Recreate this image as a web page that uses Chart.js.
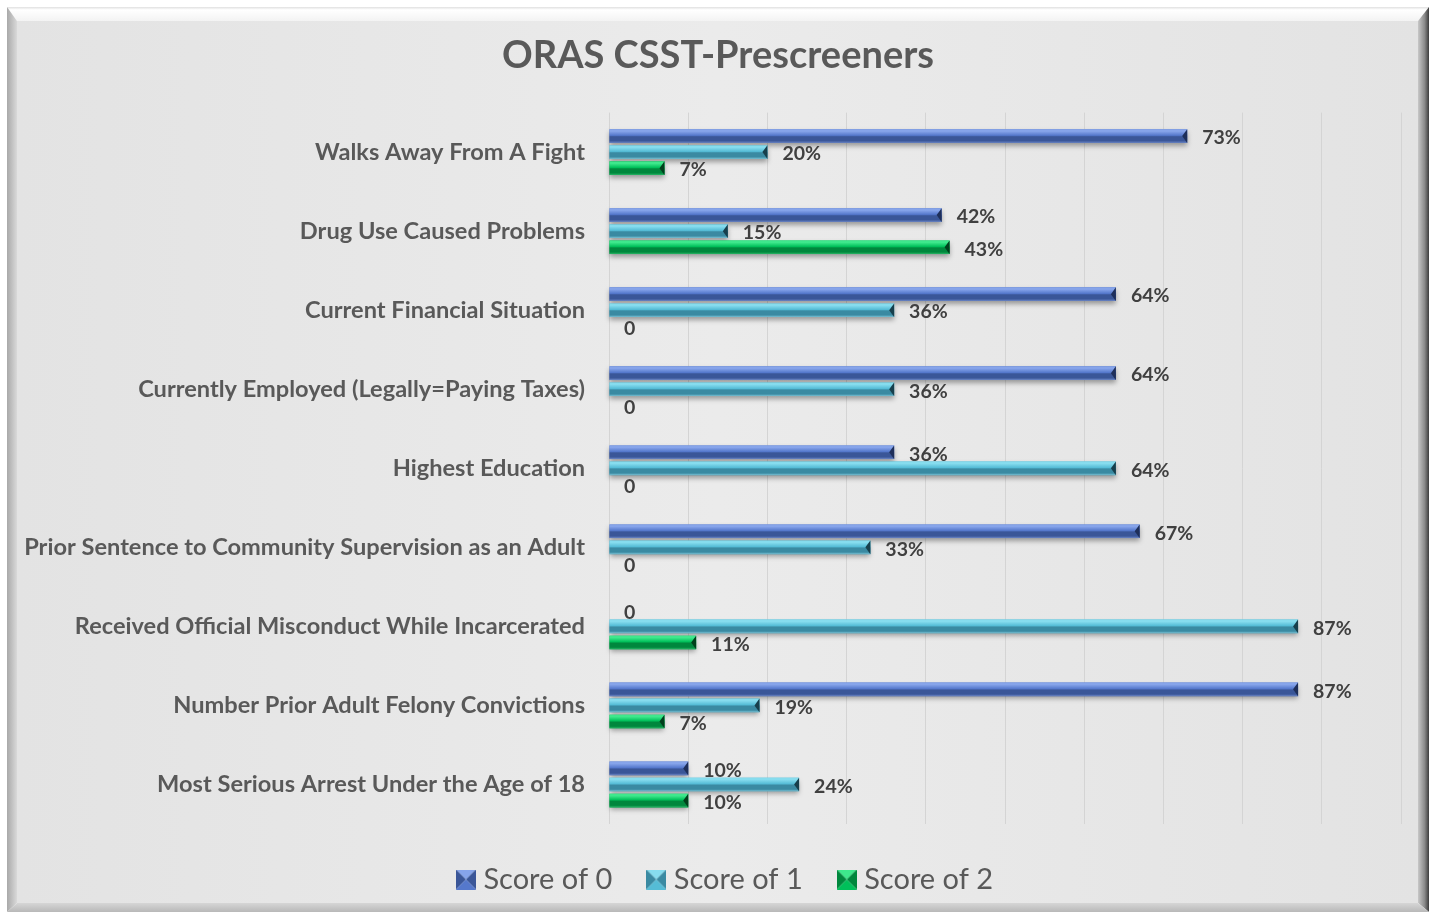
<!DOCTYPE html>
<html>
<head>
<meta charset="utf-8">
<script src="https://cdn.jsdelivr.net/npm/chart.js@4.4.0/dist/chart.umd.min.js"></script>
<style>
  html, body { margin: 0; padding: 0; background: #fff; }
</style>
</head>
<body>
<canvas id="chart" width="1432" height="914"></canvas>
<script>
const categories = [
    'Walks Away From A Fight',
    'Drug Use Caused Problems',
    'Current Financial Situation',
    'Currently Employed (Legally=Paying Taxes)',
    'Highest Education',
    'Prior Sentence to Community Supervision as an Adult',
    'Received Official Misconduct While Incarcerated',
    'Number Prior Adult Felony Convictions',
    'Most Serious Arrest Under the Age of 18'
];
const seriesNames = ['Score of 0', 'Score of 1', 'Score of 2'];
const score0 = [0.73, 0.42, 0.64, 0.64, 0.36, 0.67, 0, 0.87, 0.10];
const score1 = [0.20, 0.15, 0.36, 0.36, 0.64, 0.33, 0.87, 0.19, 0.24];
const score2 = [0.07, 0.43, 0, 0, 0, 0, 0.11, 0.07, 0.10];

// light, mid, dark, edge, cap
const palettes = [
    ['#86a4ea', '#5578cc', '#3a5698', '#6d88c8', '#1e2f5a'],
    ['#86dcee', '#55bcd6', '#3a8aa2', '#7cc3d6', '#173f4c'],
    ['#3ee88c', '#00c05a', '#00873d', '#28b866', '#00401c']
];

const FONT = 'Lato, "Open Sans", sans-serif';

function legendSwatch(p) {
    const c = document.createElement('canvas');
    c.width = 20; c.height = 20;
    const g = c.getContext('2d');
    const tri = (pts, col) => {
        g.fillStyle = col; g.beginPath();
        g.moveTo(pts[0], pts[1]); g.lineTo(pts[2], pts[3]); g.lineTo(pts[4], pts[5]);
        g.closePath(); g.fill();
    };
    tri([0, 0, 20, 0, 10, 10], p[0]);
    tri([0, 0, 0, 20, 10, 10], p[2]);
    tri([20, 0, 20, 20, 10, 10], p[2]);
    tri([0, 20, 20, 20, 10, 10], p[1]);
    return c;
}

const framePlugin = {
    id: 'frame',
    afterLayout(chart) {
        // title and legend are centred on the frame, not on the plot width
        chart.titleBlock.left += 17.5;
        chart.titleBlock.right += 17.5;
        chart.legend.left += 27.5;
        chart.legend.right += 27.5;
    },
    beforeDraw(chart) {
        const ctx = chart.ctx;
        const W = chart.width, H = chart.height;
        ctx.save();
        ctx.fillStyle = '#ffffff';
        ctx.fillRect(0, 0, W, H);
        const L = 7, T = 7, R = 1429, B = 912;
        const il = 17, it = 21, ir = 1418, ib = 903;
        const face = ctx.createLinearGradient(il, 0, ir, 0);
        face.addColorStop(0, '#e3e3e3');
        face.addColorStop(0.5, '#ebebeb');
        face.addColorStop(1, '#e3e3e3');
        ctx.fillStyle = face;
        ctx.fillRect(il, it, ir - il, ib - it);
        const poly = (pts, fill) => {
            ctx.fillStyle = fill; ctx.beginPath();
            ctx.moveTo(pts[0][0], pts[0][1]);
            pts.slice(1).forEach(p => ctx.lineTo(p[0], p[1]));
            ctx.closePath(); ctx.fill();
        };
        let g = ctx.createLinearGradient(0, T, 0, it);
        g.addColorStop(0, '#e0e0e0'); g.addColorStop(0.2, '#ffffff'); g.addColorStop(1, '#f3f3f3');
        poly([[L, T], [R, T], [ir, it], [il, it]], g);
        g = ctx.createLinearGradient(L, 0, il, 0);
        g.addColorStop(0, '#a9a9a9'); g.addColorStop(1, '#d9d9d9');
        poly([[L, T], [il, it], [il, ib], [L, B]], g);
        g = ctx.createLinearGradient(ir, 0, R, 0);
        g.addColorStop(0, '#c8c8c8'); g.addColorStop(0.6, '#8a8a8a'); g.addColorStop(1, '#3c3c3c');
        poly([[R, T], [R, B], [ir, ib], [ir, it]], g);
        g = ctx.createLinearGradient(0, ib, 0, B);
        g.addColorStop(0, '#d6d6d6'); g.addColorStop(1, '#b8b8b8');
        poly([[L, B], [R, B], [ir, ib], [il, ib]], g);
        ctx.restore();
    }
};

const barLookPlugin = {
    id: 'barLook',
    afterDatasetsDraw(chart) {
        const ctx = chart.ctx;
        chart.data.datasets.forEach((ds, di) => {
            const meta = chart.getDatasetMeta(di);
            const p = palettes[di];
            meta.data.forEach(bar => {
                const { x, y, base, height } = bar.getProps(['x', 'y', 'base', 'height'], true);
                const w = x - base;
                if (w < 1) return;
                const top = y - height / 2;
                ctx.save();
                ctx.shadowColor = 'rgba(0,0,0,0.35)';
                ctx.shadowBlur = 5;
                ctx.shadowOffsetY = 3;
                const g = ctx.createLinearGradient(0, top, 0, top + height);
                g.addColorStop(0, p[0]);
                g.addColorStop(0.15, p[0]);
                g.addColorStop(0.45, p[1]);
                g.addColorStop(0.55, p[2]);
                g.addColorStop(0.85, p[2]);
                g.addColorStop(1, p[3]);
                ctx.fillStyle = g;
                ctx.fillRect(base, top, w, height);
                ctx.restore();
                ctx.fillStyle = p[4];
                ctx.beginPath();
                ctx.moveTo(x, top);
                ctx.lineTo(x, top + height);
                ctx.lineTo(x - 5, y);
                ctx.closePath();
                ctx.fill();
            });
        });
        // data labels
        ctx.save();
        ctx.font = 'bold 19.5px ' + FONT;
        ctx.fillStyle = '#404040';
        ctx.textAlign = 'left';
        ctx.textBaseline = 'middle';
        chart.data.datasets.forEach((ds, di) => {
            const meta = chart.getDatasetMeta(di);
            meta.data.forEach((bar, i) => {
                const v = ds.data[i];
                const txt = v === 0 ? '0' : Math.round(v * 100) + '%';
                ctx.fillText(txt, bar.x + 15, bar.y + 2);
            });
        });
        ctx.restore();
    }
};

const swatches = palettes.map(legendSwatch);

new Chart(document.getElementById('chart'), {
    type: 'bar',
    data: {
        labels: categories,
        datasets: [score0, score1, score2].map((d, i) => ({
            label: seriesNames[i],
            data: d,
            backgroundColor: palettes[i][1],
            borderWidth: 0,
            categoryPercentage: 0.61,
            barPercentage: 0.85
        }))
    },
    options: {
        indexAxis: 'y',
        responsive: false,
        animation: false,
        layout: { padding: { top: 8, right: 31, bottom: 10, left: 0 } },
        scales: {
            x: {
                min: 0, max: 1,
                ticks: { display: false, stepSize: 0.1 },
                grid: { color: '#d4d4d4', drawTicks: false },
                border: { display: false },
                afterFit: s => { s.height = 0; }
            },
            y: {
                grid: { display: false },
                border: { display: false },
                ticks: { color: '#595959', font: { family: FONT, size: 23.6, weight: 'bold' }, padding: 16 },
                afterFit: s => { s.width = 609; }
            }
        },
        plugins: {
            title: {
                display: true,
                text: 'ORAS CSST-Prescreeners',
                color: '#595959',
                font: { family: FONT, size: 38, weight: 'bold', lineHeight: 1.2 },
                padding: { top: 25, bottom: 34 }
            },
            legend: {
                position: 'bottom',
                labels: {
                    color: '#595959',
                    font: { family: FONT, size: 29 },
                    boxWidth: 6, boxHeight: 20,
                    usePointStyle: true,
                    padding: 41,
                    generateLabels: chart => Chart.defaults.plugins.legend.labels.generateLabels(chart)
                        .map((l, i) => Object.assign(l, { pointStyle: swatches[i] }))
                }
            },
            tooltip: { enabled: false }
        }
    },
    plugins: [framePlugin, barLookPlugin]
});
</script>
</body>
</html>
